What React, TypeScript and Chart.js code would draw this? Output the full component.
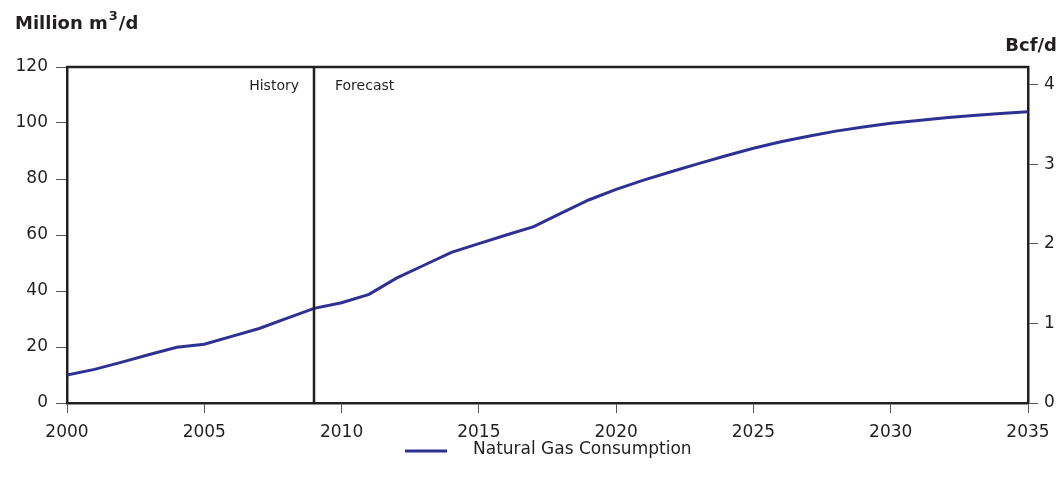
import React, { useEffect, useRef } from "react";
import { Chart, registerables } from "chart.js";

Chart.register(...registerables);

const years: number[] = [
  2000, 2001, 2002, 2003, 2004, 2005, 2006, 2007, 2008, 2009, 2010, 2011,
  2012, 2013, 2014, 2015, 2016, 2017, 2018, 2019, 2020, 2021, 2022, 2023,
  2024, 2025, 2026, 2027, 2028, 2029, 2030, 2031, 2032, 2033, 2034, 2035,
];
const consumption: number[] = [
  10.0, 12.0, 14.6, 17.3, 19.9, 21.0, 23.8, 26.6, 30.2, 33.8, 35.8, 38.8,
  44.6, 49.2, 53.8, 56.9, 60.0, 63.0, 67.8, 72.5, 76.3, 79.6, 82.6, 85.5,
  88.3, 91.0, 93.3, 95.3, 97.1, 98.6, 99.9, 100.9, 101.9, 102.7, 103.4, 104.0,
];
const rightTicks: number[] = [0, 1, 2, 3, 4];
const seriesLabel = "Natural Gas Consumption";
const leftTitle = "Million m";
const rightTitle = "Bcf/d";
const historyLabel = "History";
const forecastLabel = "Forecast";
const splitYear = 2009;

const FONT = "'DejaVu Sans', sans-serif";
const INK = "#231f20";
const TICK = "#555555";
const LINE = "#2e3192";

export default function App() {
  const ref = useRef<HTMLCanvasElement | null>(null);

  useEffect(() => {
    const canvas = ref.current;
    if (!canvas) return;

    const overlay = {
      id: "overlay",
      afterDatasetsDraw(chart: any) {
        const { ctx, chartArea, scales } = chart;
        ctx.save();
        // top border
        ctx.strokeStyle = INK;
        ctx.lineWidth = 2.5;
        ctx.beginPath();
        ctx.moveTo(chartArea.left - 1, chartArea.top);
        ctx.lineTo(chartArea.right + 1, chartArea.top);
        ctx.stroke();
        // split line
        const sx = Math.round(scales.x.getPixelForValue(splitYear));
        ctx.beginPath();
        ctx.moveTo(sx, chartArea.top);
        ctx.lineTo(sx, chartArea.bottom);
        ctx.stroke();
        ctx.fillStyle = INK;
        ctx.font = `14px ${FONT}`;
        ctx.textBaseline = "middle";
        ctx.textAlign = "right";
        ctx.fillText(historyLabel, sx - 15, chartArea.top + 19);
        ctx.textAlign = "left";
        ctx.fillText(forecastLabel, sx + 21, chartArea.top + 19);

        // titles
        ctx.font = `bold 18px ${FONT}`;
        ctx.textAlign = "left";
        ctx.textBaseline = "alphabetic";
        ctx.fillText(leftTitle, 15, 29);
        const w1 = ctx.measureText(leftTitle).width;
        ctx.font = `bold 13px ${FONT}`;
        ctx.fillText("3", 15 + w1 + 1, 20);
        const w2 = ctx.measureText("3").width;
        ctx.font = `bold 18px ${FONT}`;
        ctx.fillText("/d", 15 + w1 + w2 + 2, 29);
        ctx.textAlign = "right";
        ctx.fillText(rightTitle, 1057, 51);

        // legend
        ctx.strokeStyle = LINE;
        ctx.lineWidth = 3;
        ctx.beginPath();
        ctx.moveTo(405, 451);
        ctx.lineTo(447, 451);
        ctx.stroke();
        ctx.font = `17px ${FONT}`;
        ctx.textAlign = "left";
        ctx.textBaseline = "middle";
        ctx.fillStyle = INK;
        ctx.fillText(seriesLabel, 473, 450);
        ctx.restore();
      },
    };

    const tickFont = { family: FONT, size: 17 };

    const chart = new Chart(canvas, {
      type: "line",
      data: {
        datasets: [
          {
            label: seriesLabel,
            data: years.map((y, i) => ({ x: y, y: consumption[i] })),
            borderColor: LINE,
            backgroundColor: LINE,
            borderWidth: 3,
            pointRadius: 0,
            tension: 0,
            yAxisID: "y",
          },
        ],
      },
      options: {
        responsive: false,
        animation: false,
        layout: { padding: { top: 67, left: 0, right: 0, bottom: 0 } },
        plugins: {
          legend: { display: false },
          tooltip: { enabled: false },
        },
        scales: {
          x: {
            type: "linear",
            min: 2000,
            max: 2035,
            ticks: {
              stepSize: 5,
              color: INK,
              font: tickFont,
              padding: 9,
              maxRotation: 0,
              callback: (v: any) => String(v),
            },
            grid: {
              drawOnChartArea: false,
              tickLength: 10,
              color: TICK,
              lineWidth: 1,
            },
            border: { display: true, color: INK, width: 2.5 },
            afterFit: (s: any) => {
              s.height = 84;
            },
          },
          y: {
            position: "left",
            min: 0,
            max: 120,
            ticks: { stepSize: 20, color: INK, font: tickFont, padding: 8 },
            grid: {
              drawOnChartArea: false,
              tickLength: 11,
              color: TICK,
              lineWidth: 1,
            },
            border: { display: true, color: INK, width: 2.5 },
            afterFit: (s: any) => {
              s.width = 67;
            },
          },
          y2: {
            position: "right",
            min: 0,
            max: 4.22,
            ticks: { color: INK, font: tickFont, padding: 6 },
            grid: {
              drawOnChartArea: false,
              tickLength: 10,
              color: TICK,
              lineWidth: 1,
            },
            border: { display: true, color: INK, width: 2.5 },
            afterBuildTicks: (s: any) => {
              s.ticks = rightTicks.map((v) => ({ value: v }));
            },
            afterFit: (s: any) => {
              s.width = 32;
            },
          },
        },
      } as any,
      plugins: [overlay],
    });

    return () => chart.destroy();
  }, []);

  return (
    <div style={{ position: "fixed", left: 0, top: 0, width: 1060, height: 487, background: "#fff" }}>
      <canvas ref={ref} width={1060} height={487} style={{ width: 1060, height: 487, display: "block" }} />
    </div>
  );
}
